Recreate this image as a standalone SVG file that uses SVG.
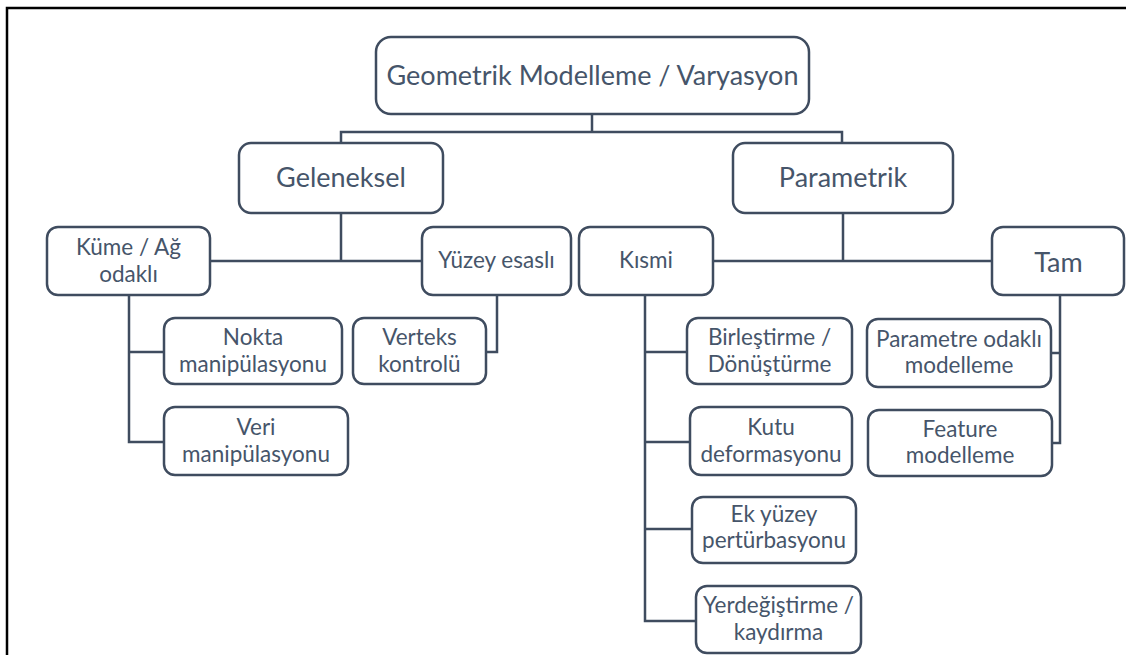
<svg xmlns="http://www.w3.org/2000/svg" width="1126" height="655" viewBox="0 0 1126 655">
  <style>
    .box { fill: #ffffff; stroke: #3f4c5f; stroke-width: 2.5; }
    .link { fill: none; stroke: #3f4c5f; stroke-width: 2.5; }
    .frame { fill: none; stroke: #000000; stroke-width: 2.5; }
    text { font-family: Lato, "Open Sans", "Liberation Sans", sans-serif; fill: #46556a; text-anchor: middle; }
    .big { font-size: 27px; }
    .small { font-size: 22.5px; }
  </style>

  <rect width="1126" height="655" fill="#ffffff"/>
  <path class="frame" d="M7,655 V8 H1126"/>

  <g id="connectors">
    <path class="link" d="M341,143 V132 H842 V143 M592,114 V132"/>
    <path class="link" d="M341,213 V261 M210,261 H422"/>
    <path class="link" d="M843,213 V261 M713,261 H992"/>
    <path class="link" d="M129,295 V442 H164 M129,352 H164"/>
    <path class="link" d="M497,295 V352 H486"/>
    <path class="link" d="M645,295 V621 H696 M645,352 H687 M645,442 H690 M645,529 H692"/>
    <path class="link" d="M1060,295 V443 H1052 M1051,353 H1060"/>
  </g>

  <g id="root">
    <rect class="box" x="376" y="37" width="433" height="77" rx="15"/>
    <text class="big" x="592.5" y="85">Geometrik Modelleme / Varyasyon</text>
  </g>

  <g id="geleneksel">
    <rect class="box" x="239" y="143" width="204" height="70" rx="12"/>
    <text class="big" x="341" y="187">Geleneksel</text>
  </g>

  <g id="parametrik">
    <rect class="box" x="733" y="143" width="220" height="70" rx="12"/>
    <text class="big" x="843" y="187">Parametrik</text>
  </g>

  <g id="kume-ag">
    <rect class="box" x="47" y="227" width="163" height="68" rx="11"/>
    <text class="small" x="128.5" y="255">Küme / Ağ</text>
    <text class="small" x="128.5" y="282">odaklı</text>
  </g>

  <g id="yuzey-esasli">
    <rect class="box" x="422" y="227" width="149" height="68" rx="11"/>
    <text class="small" x="496.5" y="268">Yüzey esaslı</text>
  </g>

  <g id="kismi">
    <rect class="box" x="579" y="227" width="134" height="68" rx="11"/>
    <text class="small" x="646" y="268">Kısmi</text>
  </g>

  <g id="tam">
    <rect class="box" x="992" y="227" width="132" height="68" rx="11"/>
    <text class="big" x="1058.5" y="272">Tam</text>
  </g>

  <g id="nokta">
    <rect class="box" x="164" y="318" width="178" height="66" rx="11"/>
    <text class="small" x="253" y="345">Nokta</text>
    <text class="small" x="253" y="372">manipülasyonu</text>
  </g>

  <g id="veri">
    <rect class="box" x="164" y="407" width="184" height="68" rx="11"/>
    <text class="small" x="256" y="435">Veri</text>
    <text class="small" x="256" y="462">manipülasyonu</text>
  </g>

  <g id="verteks">
    <rect class="box" x="353" y="318" width="133" height="66" rx="11"/>
    <text class="small" x="419.5" y="345">Verteks</text>
    <text class="small" x="419.5" y="372">kontrolü</text>
  </g>

  <g id="birlestirme">
    <rect class="box" x="687" y="318" width="165" height="66" rx="11"/>
    <text class="small" x="769.5" y="345">Birleştirme /</text>
    <text class="small" x="769.5" y="372">Dönüştürme</text>
  </g>

  <g id="kutu">
    <rect class="box" x="690" y="407" width="162" height="68" rx="11"/>
    <text class="small" x="771" y="435">Kutu</text>
    <text class="small" x="771" y="462">deformasyonu</text>
  </g>

  <g id="ek-yuzey">
    <rect class="box" x="692" y="497" width="164" height="66" rx="11"/>
    <text class="small" x="774" y="522">Ek yüzey</text>
    <text class="small" x="774" y="548">pertürbasyonu</text>
  </g>

  <g id="yerdegistirme">
    <rect class="box" x="696" y="586" width="165" height="67" rx="11"/>
    <text class="small" x="778.5" y="613">Yerdeğiştirme /</text>
    <text class="small" x="778.5" y="640">kaydırma</text>
  </g>

  <g id="parametre-odakli">
    <rect class="box" x="867" y="319" width="184" height="68" rx="11"/>
    <text class="small" x="959" y="347">Parametre odaklı</text>
    <text class="small" x="959" y="373">modelleme</text>
  </g>

  <g id="feature">
    <rect class="box" x="868" y="410" width="184" height="66" rx="11"/>
    <text class="small" x="960" y="437">Feature</text>
    <text class="small" x="960" y="463">modelleme</text>
  </g>
</svg>
